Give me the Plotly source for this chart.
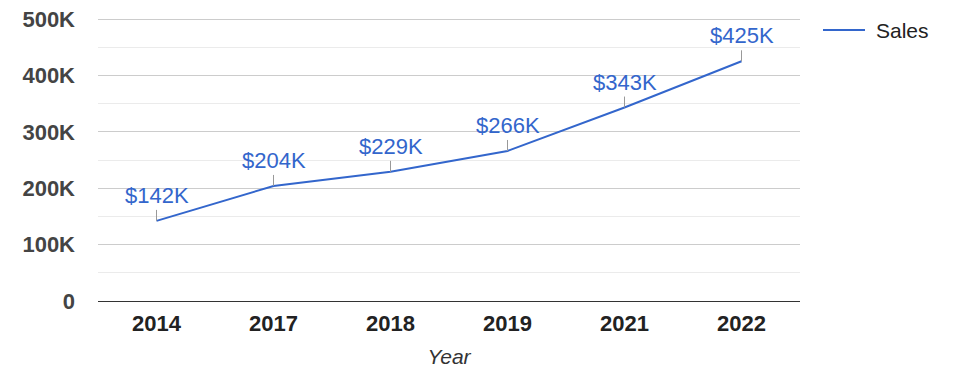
import plotly.graph_objects as go

years = ["2014", "2017", "2018", "2019", "2021", "2022"]
sales = [142000, 204000, 229000, 266000, 343000, 425000]
labels = ["$142K", "$204K", "$229K", "$266K", "$343K", "$425K"]
ytick_vals = [0, 100000, 200000, 300000, 400000, 500000]
ytick_text = ["0", "100K", "200K", "300K", "400K", "500K"]
series_name = "Sales"

FONT = "Liberation Sans, Arial, sans-serif"
BLUE = "#3366cc"

W, H = 975, 378
OFF = 8  # default page body margin
# desired plot area in page pixels (top extended a few px so the 500K gridline is drawn)
PL, PR, PT, PB = 98, 800, 16, 301
TOP_GRID_PX = 19
L, T = PL - OFF, PT - OFF
R = W - (PR - OFF)
B = H - (PB - OFF)
PW, PH = PR - PL, PB - PT
ymax = ytick_vals[-1] * PH / (PB - TOP_GRID_PX)

fig = go.Figure()
fig.add_trace(go.Scatter(
    x=years, y=sales, mode="lines", name=series_name,
    line=dict(color=BLUE, width=2), showlegend=False,
))

for i, (y, t) in enumerate(zip(sales, labels)):
    fig.add_annotation(
        x=i, y=y, xref="x", yref="y", text=t, showarrow=True, arrowhead=0,
        arrowwidth=1, arrowcolor="#999999", ax=0, ay=-11, yanchor="bottom",
        font=dict(family=FONT, size=22, color=BLUE),
    )

# custom legend (longer line sample as in reference)
ly = 1 - (30 - PT) / PH
fig.add_shape(type="line", xref="paper", yref="paper",
              x0=(823 - PL) / PW, x1=(865 - PL) / PW, y0=ly, y1=ly,
              line=dict(color=BLUE, width=2))
fig.add_annotation(xref="paper", yref="paper", x=(874 - PL) / PW, y=ly,
                   xanchor="left", yanchor="middle", showarrow=False,
                   text=series_name,
                   font=dict(family=FONT, size=21, color="#222222"))

fig.update_layout(
    width=W, height=H,
    margin=dict(l=L, r=R, t=T, b=B, autoexpand=False),
    paper_bgcolor="white", plot_bgcolor="white",
    font=dict(family=FONT),
    showlegend=False,
)
fig.update_xaxes(
    type="category", range=[-0.5, 5.5], automargin=False,
    showgrid=False, showline=False, ticks="", ticklabelstandoff=7,
    tickfont=dict(family=FONT, size=22, color="#222222", weight="bold"),
    title=dict(text="<i>Year</i>", font=dict(family=FONT, size=21, color="#333333"), standoff=14),
)
fig.update_yaxes(
    range=[0, ymax], tickvals=ytick_vals, ticktext=ytick_text, automargin=False,
    showgrid=True, gridcolor="#cccccc", gridwidth=1,
    zeroline=True, zerolinecolor="#333333", zerolinewidth=1,
    showline=False, ticks="", ticklabelstandoff=22, ticklabeloverflow="allow",
    tickfont=dict(family=FONT, size=22, color="#444444", weight="bold"),
    minor=dict(dtick=50000, showgrid=True, gridcolor="#ebebeb", gridwidth=1),
)

fig.write_html("out.html")
